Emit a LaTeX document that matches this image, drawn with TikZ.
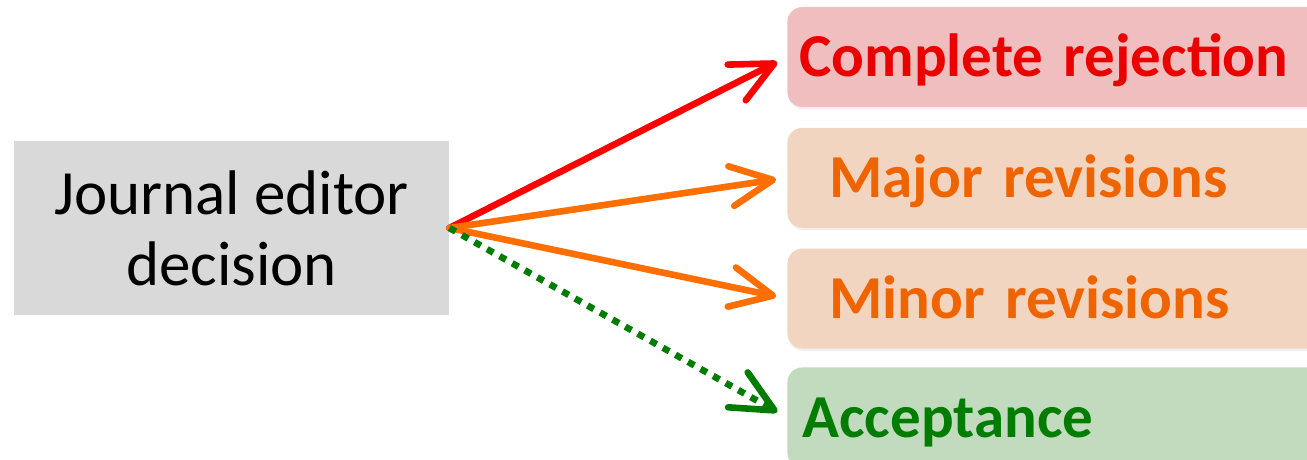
\documentclass[tikz,border=0pt]{standalone}
\usepackage{fontspec}
\setmainfont{Carlito}
\usetikzlibrary{arrows.meta, positioning, shadows}
\definecolor{editorgray}{RGB}{217,217,217}
\definecolor{rejectfill}{RGB}{240,190,190}
\definecolor{revisefill}{RGB}{242,213,192}
\definecolor{acceptfill}{RGB}{194,218,190}
\definecolor{rejectred}{RGB}{235,0,0}
\definecolor{arrowred}{RGB}{255,0,0}
\definecolor{reviseorange}{RGB}{238,100,0}
\definecolor{arroworange}{RGB}{255,110,0}
\definecolor{acceptgreen}{RGB}{0,125,0}
\tikzset{
  editor/.style={
    fill=editorgray,
    minimum width=217.5pt,
    minimum height=87pt,
    align=center,
    font=\fontsize{31.5}{35.5}\selectfont
  },
  outcome/.style={
    rounded corners=7.5pt,
    minimum height=50pt,
    text width=260pt,
    text height=25pt,
    text depth=5pt,
    align=left,
    font=\bfseries\fontsize{30.5}{35}\selectfont,
    drop shadow={opacity=0.12, shadow xshift=0.6pt, shadow yshift=-1.2pt}
  },
  reject/.style={outcome, fill=rejectfill, text=rejectred, inner xsep=6pt},
  revise/.style={outcome, fill=revisefill, text=reviseorange, inner xsep=21pt},
  accept/.style={outcome, fill=acceptfill, text=acceptgreen, inner xsep=7.5pt},
  arrow/.style={
    -{Straight Barb[length=21pt, width=20pt, round]},
    line width=3.3pt,
    line cap=round,
    shorten >=5.5pt
  }
}

\begin{document}
\begin{tikzpicture}[x=0.5pt, y=-0.5pt]
  \useasboundingbox (0,0) rectangle (1307,460);

  \node[editor] (editor) at (231.5,228) {Journal editor\\decision};

  \node[reject, anchor=west] (rejection) at (787,57) {Complete rejection};
  \node[revise, below=10pt of rejection.south west, anchor=north west] (major) {Major revisions};
  \node[revise, below=10pt of major.south west, anchor=north west] (minor) {Minor revisions};
  \node[accept, below=9pt of minor.south west, anchor=north west] (acceptance) {Acceptance};

  \draw[arrow, draw=arrowred] (editor.east) -- (rejection.west);
  \draw[arrow, draw=arroworange] (editor.east) -- (major.west);
  \draw[arrow, draw=arroworange] (editor.east) -- (minor.west);
  \draw[arrow, draw=acceptgreen, line cap=butt, dash pattern=on 3.6pt off 3.6pt] (editor.east) -- (acceptance.west);
\end{tikzpicture}
\end{document}
